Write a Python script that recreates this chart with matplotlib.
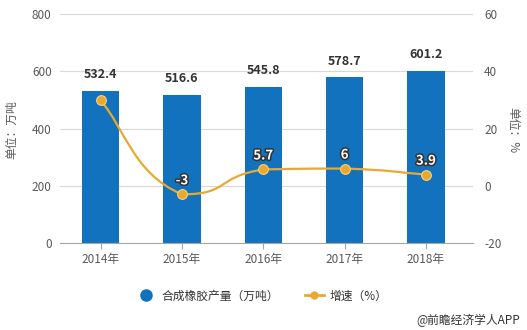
import matplotlib
matplotlib.use("Agg")
import matplotlib.pyplot as plt
import matplotlib.patheffects as pe
from matplotlib.path import Path
from matplotlib.patches import PathPatch
from matplotlib.lines import Line2D
import numpy as np

plt.rcParams['font.family'] = ['Noto Sans CJK SC', 'DejaVu Sans']

years = ["2014年", "2015年", "2016年", "2017年", "2018年"]
output = [532.4, 516.6, 545.8, 578.7, 601.2]
growth = [29.8, -3, 5.7, 6, 3.9]
growth_labels = ["", "-3", "5.7", "6", "3.9"]
left_ticks = [0, 200, 400, 600, 800]
right_ticks = [-20, 0, 20, 40, 60]

bar_color = "#1272BE"
line_color = "#E9A931"
text_gray = "#595959"

W, H = 527, 330
fig = plt.figure(figsize=(W / 100, H / 100), dpi=100)
ax = fig.add_axes([60 / W, 1 - 243 / H, (473 - 60) / W, (243 - 14) / H])
ax2 = ax.twinx()

x = np.arange(len(years))
ax.bar(x, output, width=0.46, color=bar_color, zorder=2)
ax.set_xlim(-0.5, 4.58)
ax.set_ylim(0, 800)
ax.set_yticks(left_ticks)
ax.set_yticklabels([str(t) for t in left_ticks])
ax.grid(axis='y', color="#D9D9D9", linewidth=0.8, zorder=0)
ax.set_axisbelow(True)
ax.set_xticks(x)
ax.set_xticklabels(years)
for s in ["top", "right", "left"]:
    ax.spines[s].set_visible(False)
    ax2.spines[s].set_visible(False)
ax2.spines["bottom"].set_visible(False)
ax.spines["bottom"].set_color("#A6A6A6")
ax.tick_params(axis='x', length=4, color="#A6A6A6", labelsize=8.5, labelcolor=text_gray, pad=3)
ax.tick_params(axis='y', length=0, labelsize=8.5, labelcolor=text_gray, pad=6)

for xi, v in zip(x, output):
    ax.annotate(f"{v}", (xi, v), xytext=(0, 7), textcoords="offset points",
                ha="center", va="bottom", fontsize=9, fontweight="bold", color="#333333")

ax2.set_ylim(-20, 60)
ax2.set_yticks(right_ticks)
ax2.set_yticklabels([str(t) for t in right_ticks])
ax2.tick_params(axis='y', length=0, labelsize=8.5, labelcolor=text_gray, pad=8)

# smooth curve through the points (cubic Bezier, control points clamped to avoid overshoot)
pts = np.column_stack([x, growth]).astype(float)
verts = [tuple(pts[0])]
codes = [Path.MOVETO]
t = 0.3
for i in range(len(pts) - 1):
    p0 = pts[i - 1] if i > 0 else pts[i]
    p1 = pts[i]
    p2 = pts[i + 1]
    p3 = pts[i + 2] if i + 2 < len(pts) else pts[i + 1]
    c1 = p1 + (p2 - p0) * t
    c2 = p2 - (p3 - p1) * t
    lo, hi = min(p1[1], p2[1]), max(p1[1], p2[1])
    c1[1] = np.clip(c1[1], lo, hi)
    c2[1] = np.clip(c2[1], lo, hi)
    verts += [tuple(c1), tuple(c2), tuple(p2)]
    codes += [Path.CURVE4] * 3
ax2.add_patch(PathPatch(Path(verts, codes), facecolor="none", edgecolor=line_color, lw=1.6, zorder=3))
ax2.plot(x, growth, linestyle="none", marker="o", markersize=7, markerfacecolor=line_color,
         markeredgecolor="#F6D27E", markeredgewidth=0.8, zorder=4)

for xi, v, lab in zip(x, growth, growth_labels):
    if lab:
        ax2.annotate(lab, (xi, v), xytext=(0, 5), textcoords="offset points", ha="center",
                     va="bottom", fontsize=9.5, fontweight="bold", color="white",
                     path_effects=[pe.withStroke(linewidth=2.2, foreground="#333333")], zorder=5)

fig.text(12 / W, 1 - 130 / H, "单位：万吨", rotation=90, ha="center", va="center",
         fontsize=8.5, color=text_gray)
fig.text(513 / W, 1 - 130 / H, "单位：%", rotation=-90, ha="center", va="center",
         fontsize=8.5, color=text_gray)

handles = [
    Line2D([], [], linestyle="none", marker="o", markersize=8, markerfacecolor=bar_color,
           markeredgecolor=bar_color),
    Line2D([], [], color=line_color, lw=2, marker="o", markersize=5, markerfacecolor=line_color,
           markeredgecolor=line_color),
]
fig.legend(handles, ["合成橡胶产量（万吨）", "增速（%）"], loc="center",
           bbox_to_anchor=(262 / W, 1 - 296 / H), ncol=2, frameon=False, fontsize=8.5,
           handlelength=1.6, columnspacing=2.2, handletextpad=0.5, labelcolor="#333333")

fig.text(520 / W, 1 - 320 / H, "@前瞻经济学人APP", ha="right", va="center", fontsize=8.5,
         color="#333333")

fig.savefig("out.png", dpi=100)
